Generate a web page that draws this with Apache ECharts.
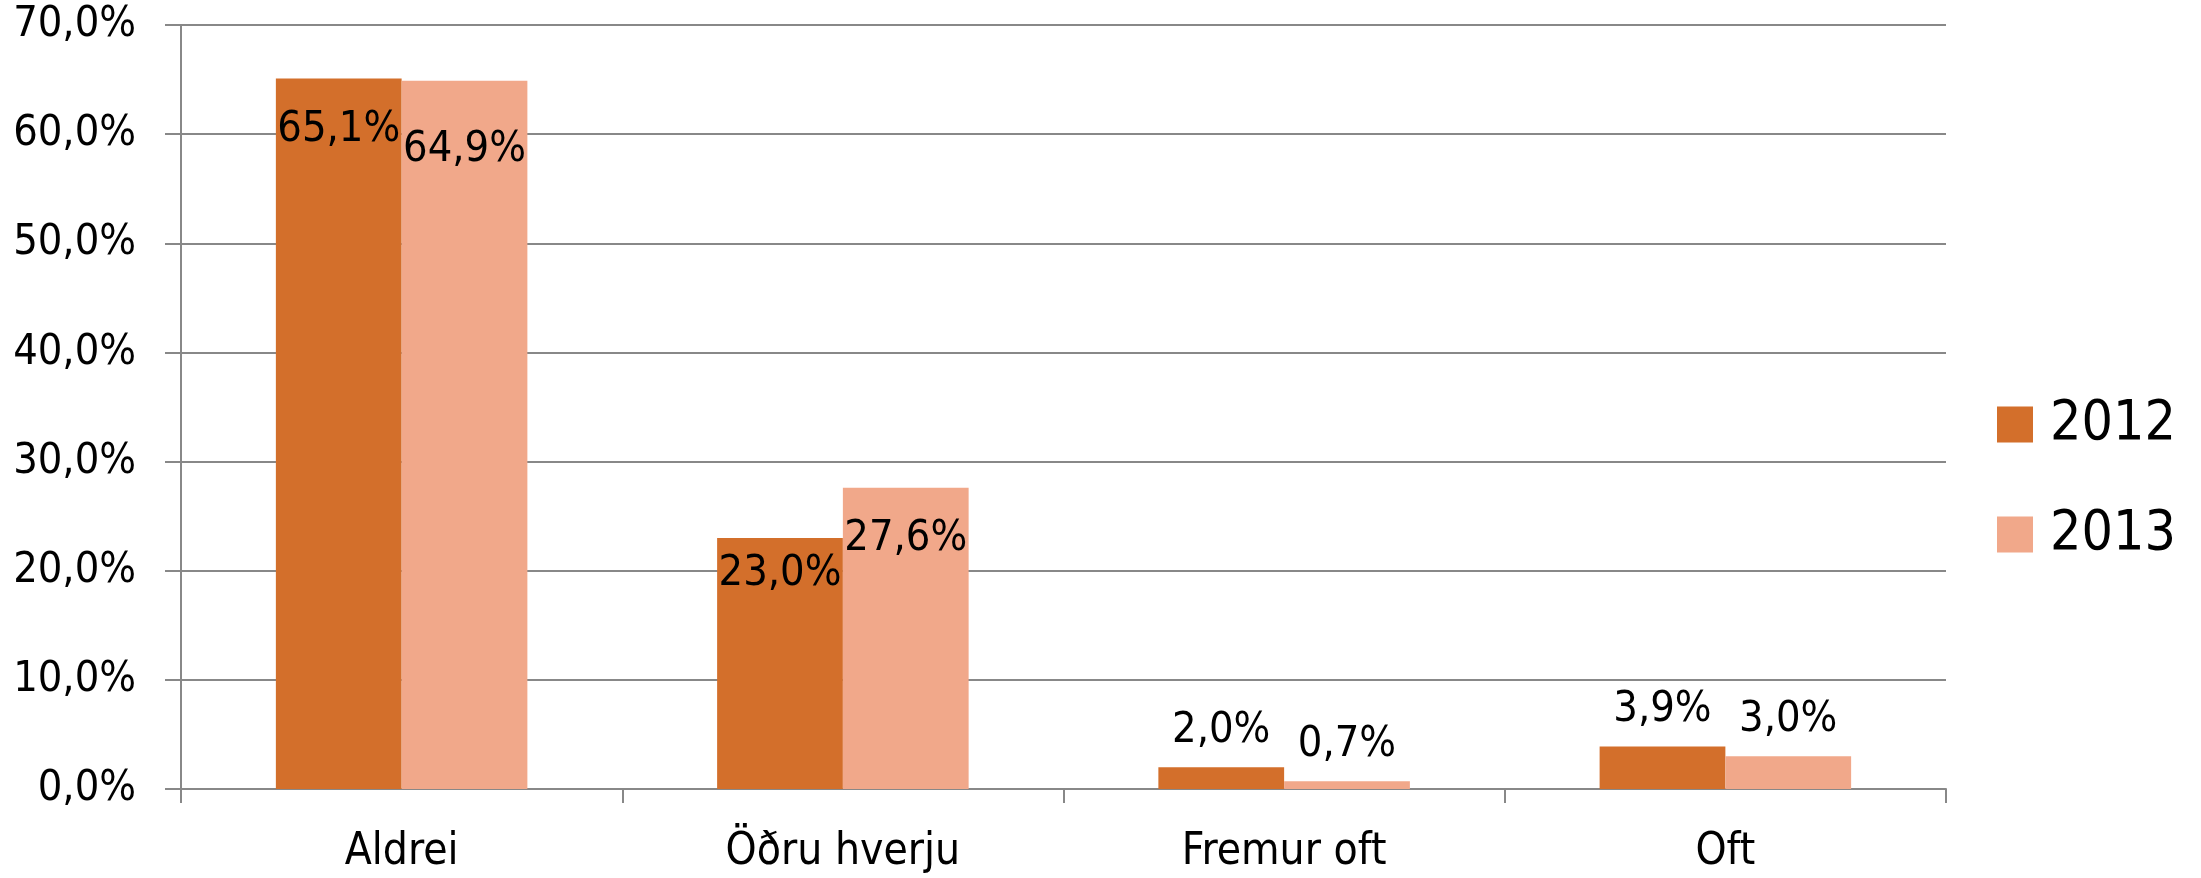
<html lang="is">
<head>
<meta charset="UTF-8">
<title>Aldrei / Oft</title>
<script src="https://cdn.jsdelivr.net/npm/echarts@6/dist/echarts.min.js"></script>
<style>
html,body{margin:0;padding:0;background:#fff;}
</style>
</head>
<body>
<div id="main" style="width:2201px;height:878px;"></div>
<script type="text/javascript">
var categories = ['Aldrei', 'Öðru hverju', 'Fremur oft', 'Oft'];
var seriesNames = ['2012', '2013'];
var values2012 = [65.1, 23.0, 2.0, 3.9];
var values2013 = [64.9, 27.6, 0.7, 3.0];
var yTicks = [0, 10, 20, 30, 40, 50, 60, 70];

var FONT = '"DejaVu Sans Condensed", "Liberation Sans", sans-serif';
var colors = ['#D36F2B', '#F1A88A'];

function pct(v) {
	return v.toFixed(1).replace('.', ',') + '%';
}

// labels sit inside the tall bars, above the short ones
function makeData(vals, insideDist) {
	return vals.map(function(v, i) {
		var item = {value: v};
		if (v > 10) {
			item.label = {position: 'insideTop', distance: insideDist[i]};
		} else {
			item.label = {position: 'top', distance: 15};
		}
		return item;
	});
}

var myChart = echarts.init(document.getElementById('main'));
var option = {
	animation: false,
	color: colors,
	textStyle: {fontFamily: FONT, color: '#000'},
	grid: {left: 181, right: 255, top: 25, bottom: 89},
	legend: {
		orient: 'vertical',
		left: 1992,
		top: 392,
		itemWidth: 36,
		itemHeight: 36,
		itemGap: 55,
		icon: 'rect',
		data: seriesNames,
		textStyle: {fontSize: 55, lineHeight: 55, color: '#000', fontFamily: FONT, padding: [0, 0, 0, 12]}
	},
	xAxis: {
		type: 'category',
		data: categories,
		axisLine: {lineStyle: {color: '#888', width: 2}},
		axisTick: {show: true, length: 14, lineStyle: {color: '#888', width: 2}},
		axisLabel: {fontSize: 44, color: '#000', margin: 42, fontFamily: FONT}
	},
	yAxis: {
		type: 'value',
		min: yTicks[0],
		max: yTicks[yTicks.length - 1],
		interval: 10,
		axisLine: {show: true, lineStyle: {color: '#888', width: 2}},
		axisTick: {show: true, length: 16, lineStyle: {color: '#888', width: 2}},
		splitLine: {lineStyle: {color: '#888', width: 2}},
		axisLabel: {fontSize: 43, color: '#000', margin: 45, fontFamily: FONT, formatter: pct}
	},
	series: [{
		name: seriesNames[0],
		type: 'bar',
		barGap: '0%',
		barCategoryGap: '43%',
		data: makeData(values2012, [30, 14]),
		label: {show: true, fontSize: 43, color: '#000', fontFamily: FONT, formatter: function(p) { return pct(p.value); }}
	}, {
		name: seriesNames[1],
		type: 'bar',
		barGap: '0%',
		barCategoryGap: '43%',
		data: makeData(values2013, [48, 30]),
		label: {show: true, fontSize: 43, color: '#000', fontFamily: FONT, formatter: function(p) { return pct(p.value); }}
	}]
};
myChart.setOption(option);
</script>
</body>
</html>
